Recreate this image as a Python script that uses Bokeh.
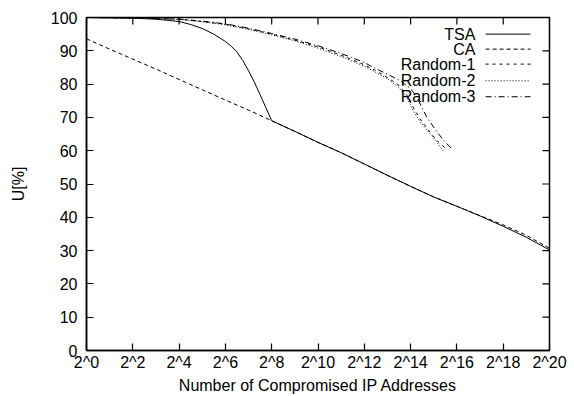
from bokeh.plotting import figure
from bokeh.models import Range1d, FixedTicker
from bokeh.core.properties import value
from bokeh.embed import file_html
from bokeh.resources import INLINE

# x values are log2 of the number of compromised addresses
tsa_x = [0, 1, 2, 3, 4, 4.5, 5, 5.5, 6, 6.25, 6.5, 6.75, 7, 7.25, 7.5, 7.75, 8,
         9, 10, 11, 12, 13, 14, 15, 16, 17, 18, 19, 20]
tsa_y = [100, 99.9, 99.8, 99.5, 98.8, 97.9, 96.7, 95.0, 92.8, 91.4, 89.6, 87.1, 84.0, 80.6,
         76.8, 72.9, 69.0,
         65.8, 62.5, 59.4, 56.0, 52.6, 49.3, 46.1, 43.3, 40.4, 37.3, 34.0, 30.2]

ca_x = [0, 1, 2, 3, 4, 5, 6, 7, 8, 9, 10, 11, 12, 13, 14, 15, 16, 17, 18, 19, 20]
ca_y = [93.6, 90.5, 87.5, 84.5, 81.4, 78.3, 75.2, 72.2, 69.0, 65.8, 62.5, 59.4, 56.0,
        52.6, 49.3, 46.1, 43.3, 40.5, 37.7, 34.6, 30.7]

r1_x = [0, 2, 4, 5, 6, 7, 8, 9, 10, 11, 12, 12.5, 13, 13.5, 13.85, 14.1, 14.4, 14.9, 15.2, 15.58]
r1_y = [100, 99.9, 99.5, 98.8, 98.0, 96.6, 95.0, 93.2, 91.2, 88.7, 85.8, 84.0, 82.0,
        79.6, 76.5, 73.2, 69.6, 65.0, 62.6, 60.3]

r2_x = [0, 2, 4, 5, 6, 7, 8, 9, 10, 11, 12, 12.5, 13, 13.5, 13.85, 14.1, 14.4, 14.9, 15.2, 15.45]
r2_y = [100, 99.8, 99.4, 98.7, 97.8, 96.4, 94.8, 93.0, 90.8, 88.3, 85.4, 83.5, 81.6,
        79.0, 75.8, 72.2, 68.8, 64.6, 61.9, 59.6]

r3_x = [0, 2, 4, 5, 6, 7, 8, 9, 10, 11, 12, 12.5, 13, 13.56, 14.0, 14.28, 14.5, 14.71, 15.15, 15.5, 15.8]
r3_y = [100, 99.9, 99.5, 98.9, 98.1, 96.8, 95.2, 93.5, 91.5, 89.2, 86.5, 84.6, 83.0,
        81.0, 78.6, 76.0, 72.8, 70.0, 65.5, 62.6, 60.4]

x_ticks = [0, 2, 4, 6, 8, 10, 12, 14, 16, 18, 20]
x_tick_labels = ["2^0", "2^2", "2^4", "2^6", "2^8", "2^10", "2^12", "2^14", "2^16", "2^18", "2^20"]
y_ticks = [0, 10, 20, 30, 40, 50, 60, 70, 80, 90, 100]

series_names = ["TSA", "CA", "Random-1", "Random-2", "Random-3"]
series_dash = ["solid", "4 3", "3 4", "1 2", "6 3 1 3"]

FONT = "Liberation Sans"
FS = "16px"

X0, X1, Y0, Y1 = 0, 20, 0, 100
W, H = 574, 396
BL, BR, BT, BB = 86, 25, 17, 46

p = figure(width=W, height=H, output_backend="svg", toolbar_location=None,
           x_range=Range1d(X0, X1), y_range=Range1d(Y0, Y1),
           min_border_left=BL, min_border_right=BR, min_border_top=BT, min_border_bottom=BB)
p.background_fill_color = "white"
p.border_fill_color = "white"
p.outline_line_color = "black"
p.outline_line_width = 1.5
p.xgrid.grid_line_color = None
p.ygrid.grid_line_color = None


def style_axis(ax, ticks):
    ax.ticker = FixedTicker(ticks=ticks)
    ax.major_tick_in = 7
    ax.major_tick_out = 0
    ax.minor_tick_line_color = None
    ax.major_tick_line_color = "black"
    ax.major_tick_line_width = 1.2
    ax.axis_line_color = "black"
    ax.axis_line_width = 1.5
    ax.major_label_text_font = FONT
    ax.major_label_text_font_size = FS
    ax.major_label_text_color = "black"
    ax.axis_label_text_font = FONT
    ax.axis_label_text_font_size = FS
    ax.axis_label_text_font_style = "normal"
    ax.axis_label_text_color = "black"


xa = p.xaxis[0]
style_axis(xa, x_ticks)
xa.major_label_overrides = {t: s for t, s in zip(x_ticks, x_tick_labels)}
xa.major_label_standoff = 3
xa.axis_label = "Number of Compromised IP Addresses"
xa.axis_label_standoff = 3

ya = p.yaxis[0]
style_axis(ya, y_ticks)
ya.major_label_standoff = 9
ya.axis_label = "U[%]"
ya.axis_label_standoff = 21

# mirrored inward ticks on the top and right edges of the box
tick_len_px = 7
frame_w = W - BL - BR
frame_h = H - BT - BB
dy = tick_len_px * (Y1 - Y0) / frame_h
dx = tick_len_px * (X1 - X0) / frame_w
p.segment(x0=x_ticks, y0=[Y1] * len(x_ticks), x1=x_ticks, y1=[Y1 - dy] * len(x_ticks),
          line_color="black", line_width=1.2)
p.segment(x0=[X1] * len(y_ticks), y0=y_ticks, x1=[X1 - dx] * len(y_ticks), y1=y_ticks,
          line_color="black", line_width=1.2)

# curves
curves = [(tsa_x, tsa_y), (ca_x, ca_y), (r1_x, r1_y), (r2_x, r2_y), (r3_x, r3_y)]
for (xs, ys), dash in zip(curves, series_dash):
    p.line(xs, ys, line_color="black", line_width=1, line_dash=dash)

# key in the upper right: label on the left, line sample on the right
key_text_x = 16.8
key_line_x0 = 17.24
key_line_x1 = 19.18
key_rows_y = [95.0, 90.5, 86.0, 81.0, 76.2]
p.text(x=[key_text_x] * len(series_names), y=key_rows_y, text=series_names,
       text_align="right", text_baseline="middle", text_font=value(FONT),
       text_font_size=FS, text_color="black")
for yy, dash in zip(key_rows_y, series_dash):
    p.segment(x0=[key_line_x0], y0=[yy], x1=[key_line_x1], y1=[yy],
              line_color="black", line_width=1, line_dash=dash)

open("out.html", "w").write(file_html(p, INLINE))
